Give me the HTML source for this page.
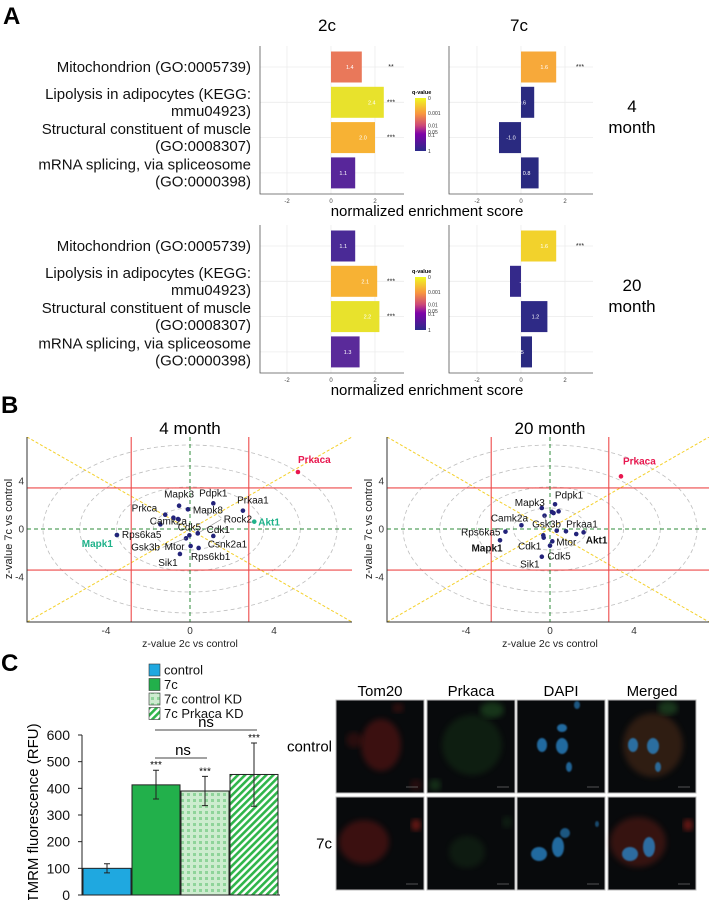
<!DOCTYPE html>
<html><head><meta charset="utf-8">
<style>
html,body{margin:0;padding:0;background:#fff;}
svg{display:block;font-family:"Liberation Sans",Arial,sans-serif;}
</style></head>
<body>
<svg id="fig" width="709" height="900" viewBox="0 0 709 900" xmlns="http://www.w3.org/2000/svg">
<defs>
<linearGradient id="qgrad" x1="0" y1="0" x2="0" y2="1">
<stop offset="0" stop-color="#f0f921"/><stop offset="0.3" stop-color="#f89540"/><stop offset="0.52" stop-color="#cc4778"/><stop offset="0.68" stop-color="#7e03a8"/><stop offset="1" stop-color="#2b2a8a"/>
</linearGradient>
<pattern id="dots" width="6" height="6" patternUnits="userSpaceOnUse"><rect width="6" height="6" fill="#cdeccf"/><rect x="1" y="1" width="3" height="3" fill="#8fd49a"/></pattern>
<pattern id="stripes" width="5" height="5" patternUnits="userSpaceOnUse" patternTransform="rotate(45)"><rect width="5" height="5" fill="#fff"/><rect width="2.6" height="5" fill="#2fb54a"/></pattern>
<filter id="blur2"><feGaussianBlur stdDeviation="3"/></filter>
<filter id="blur1"><feGaussianBlur stdDeviation="0.8"/></filter>
</defs>
<g id="panelA"></g>
<g id="panelB"></g>
<g id="panelC"></g>
</svg>
<script>
// ---------- Panel A data ----------
const termLines = [["Mitochondrion (GO:0005739)"],["Lipolysis in adipocytes (KEGG:","mmu04923)"],["Structural constituent of muscle","(GO:0008307)"],["mRNA splicing, via spliceosome","(GO:0000398)"]];
const nes4m2c = [1.4, 2.4, 2.0, 1.1];
const nes4m7c = [1.6, 0.6, -1.0, 0.8];
const nes20m2c = [1.1, 2.1, 2.2, 1.3];
const nes20m7c = [1.6, -0.5, 1.2, 0.5];
const nesLabel20m7c = ["1.6","-0","1.2","0.5"];
const col4m2c = ["#e9785a","#e8e22c","#f7b234","#58269a"];
const col4m7c = ["#f7a93a","#2a2a80","#2a2a80","#2a2a80"];
const col20m2c = ["#4a2a96","#f7b234","#e8e22c","#5a2a9a"];
const col20m7c = ["#f2d22c","#34298a","#2e2a86","#2a2a80"];
const stars4m2c = ["**","***","***",""];
const stars4m7c = ["***","","",""];
const stars20m2c = ["","***","***",""];
const stars20m7c = ["***","","",""];
const nesTicks = [-2, 0, 2];
const qTickLabels = ["0","0.001","0.01","0.05","0.1","1"];
const qTickFrac = [0, 0.28, 0.52, 0.64, 0.7, 1];

// ---------- Panel B data ----------
const genes4m = ["Prkaca","Mapk3","Pdpk1","Mapk8","Prkaa1","Akt1","Prkca","Camk2a","","","Cdk5","Gsk3b","Rock2","Cdk1","Mapk1","Rps6ka5","Mtor","Rps6kb1","Sik1","Csnk2a1"];
const z2c4m = [5.14,-0.52,1.11,-0.10,2.52,3.06,-1.18,-1.41,-0.79,-0.57,-0.03,-0.19,0.37,1.11,-3.48,-3.48,0.03,0.41,-0.48,0.37];
const z7c4m = [4.75,1.94,2.14,1.64,1.53,0.61,1.19,0.39,0.94,0.83,-0.53,-0.78,-0.36,-0.58,-0.50,-0.50,-1.42,-1.58,-2.08,-0.36];
const genes20m = ["Prkaca","Mapk3","Pdpk1","","","","Gsk3b","Camk2a","Prkaa1","","","Akt1","Rps6ka5","Mapk1","Cdk1","","Mtor","Cdk5","Sik1"];
const z2c20m = [3.38,-0.39,0.24,0.41,0.09,0.17,-0.26,-1.36,0.76,0.32,1.25,1.60,-2.12,-2.38,-0.30,-0.32,0.11,0.00,-0.39];
const z7c20m = [4.39,1.75,2.06,1.47,1.42,1.33,1.11,0.31,-0.19,-0.14,-0.42,-0.28,-0.22,-0.94,-0.72,-0.53,-1.03,-1.39,-2.31];
const zTicks = [-4, 0, 4];
const circleRadii = [1.75, 3.5, 5.25, 7];

// ---------- Panel C data ----------
const groups = ["control","7c","7c control KD","7c Prkaca KD"];
const tmrmMean = [100, 413, 390, 452];
const tmrmLow = [83, 360, 335, 333];
const tmrmHigh = [117, 468, 445, 570];
const tmrmStars = ["","***","***","***"];
const rfuTicks = [0,100,200,300,400,500,600];
const imgCols = ["Tom20","Prkaca","DAPI","Merged"];
const imgRows = ["control","7c"];

const NS="http://www.w3.org/2000/svg";
function el(tag, attrs, parent, text){
  const e=document.createElementNS(NS,tag);
  for(const k in attrs) e.setAttribute(k, attrs[k]);
  if(text!==undefined) e.textContent=text;
  parent.appendChild(e); return e;
}
const A=document.getElementById('panelA');
const B=document.getElementById('panelB');
const C=document.getElementById('panelC');

// ======== Panel A ========
let t=el('text',{x:3,y:24,'font-size':24,'font-weight':'bold'},A,'A');


t=el('text',{x:327,y:31,'font-size':17,'text-anchor':'middle'},A,'2c');


t=el('text',{x:519,y:31,'font-size':17,'text-anchor':'middle'},A,'7c');



function facet(g, left, zero, right, top, bottom, vals, cols, stars, labels, name){
  const sx = v => zero + v*22;
  const rowY = i => top + 21 + i*35.3;
  const fg=el('g',{},g);
  
  
  nesTicks.forEach(v=>{ const l=el('line',{x1:sx(v),x2:sx(v),y1:top,y2:bottom,stroke:'#ececec','stroke-width':0.8},fg);
    
    
    const tl=el('text',{x:sx(v),y:bottom+9,'font-size':6,'text-anchor':'middle',fill:'#444'},fg,String(v));
    
    
  });
  vals.forEach((v,i)=>{
    const y=rowY(i);
    const gl=el('line',{x1:left,x2:right,y1:y,y2:y,stroke:'#ececec','stroke-width':0.8},fg);
    
    
    const x0=Math.min(sx(0),sx(v)), w=Math.abs(sx(v)-sx(0));
    const r=el('rect',{x:x0,y:y-15.5,width:w,height:31,fill:cols[i]},fg);
    
    
    const lab = labels ? labels[i] : v.toFixed(1);
    const bt=el('text',{x:v>=0? sx(v)-12 : sx(v)+12,y:y+2,'font-size':5.5,'text-anchor':'middle',fill:'#fff'},fg,lab);
    
    
    if(stars[i]){ const st=el('text',{x:right-13,y:y+2,'font-size':7,'text-anchor':'middle',fill:'#222'},fg,stars[i]);
      
       }
  });
  const ax=el('path',{d:`M${left},${top} V${bottom} H${right}`,fill:'none',stroke:'#555','stroke-width':0.8},fg);
  
  
}
function termLabels(g, top){
  termLines.forEach((ls,i)=>{
    const y=top+21+i*35.3;
    const n=ls.length;
    ls.forEach((s,j)=>{
      const yy = y + 5 + (j-(n-1)/2)*17;
      const tl=el('text',{x:251,y:yy,'font-size':15,'text-anchor':'end',fill:'#111'},g,s);
      
      
    });
  });
}
function colorbar(g, top){
  const cb=el('rect',{x:415,y:top,width:11,height:53,fill:'url(#qgrad)'},g);
  
  
  const ct=el('text',{x:412,y:top-4,'font-size':5.5,'font-weight':'bold'},g,'q-value');
  
  
  qTickLabels.forEach((s,i)=>{ const q=el('text',{x:428,y:top+qTickFrac[i]*53+2,'font-size':5,fill:'#333'},g,s);
    
     });
}
function facetRow(top, v2, c2, s2, v7, c7, s7, l7, rowName, ageTop, ageBot){
  const bottom=top+148;
  termLabels(A, top);
  facet(A,260,331,404,top,bottom,v2,c2,s2,null,'facet-2c-'+rowName);
  facet(A,449,521,593,top,bottom,v7,c7,s7,l7,'facet-7c-'+rowName);
  colorbar(A, top+52);
  const xl=el('text',{x:427,y:bottom+22,'font-size':15,'text-anchor':'middle'},A,'normalized enrichment score');
  
  
  let a=el('text',{x:632,y:top+66,'font-size':17,'text-anchor':'middle'},A,ageTop);
  
  
  a=el('text',{x:632,y:top+87,'font-size':17,'text-anchor':'middle'},A,ageBot);
  
  
}
facetRow(46, nes4m2c, col4m2c, stars4m2c, nes4m7c, col4m7c, stars4m7c, null, '4m', '4', 'month');
facetRow(225, nes20m2c, col20m2c, stars20m2c, nes20m7c, col20m7c, stars20m7c, nesLabel20m7c, '20m', '20', 'month');

// ======== Panel B ========
t=el('text',{x:1,y:413,'font-size':24,'font-weight':'bold'},B,'B');


const labStyle4m = {Prkaca:[0,-9,'start',1],Mapk3:[0,-8,'middle',0],Pdpk1:[0,-7,'middle',0],Mapk8:[5,4,'start',0],Prkaa1:[10,-7,'middle',0],Akt1:[4,4,'start',1],Prkca:[-8,-3,'end',0],Camk2a:[8,0,'middle',0],Cdk5:[0,-5,'middle',0],Gsk3b:[-26,12,'end',0],Rock2:[26,-11,'start',0],Cdk1:[5,-3,'middle',0],Mapk1:[-4,12,'end',1],Rps6ka5:[5,3,'start',0],Mtor:[-6,4,'end',0],Rps6kb1:[12,12,'middle',0],Sik1:[-12,12,'middle',0],Csnk2a1:[10,14,'start',0]};
const labStyle20m = {Prkaca:[2,-12,'start',1],Mapk3:[-12,-2,'middle',0],Pdpk1:[14,-6,'middle',0],Gsk3b:[2,12,'middle',0],Camk2a:[-12,-4,'middle',0],Prkaa1:[16,-4,'middle',0],Akt1:[13,11,'middle',2],Rps6ka5:[-5,4,'end',0],Mapk1:[-13,11,'middle',2],Cdk1:[-14,12,'middle',0],Mtor:[14,4,'middle',0],Cdk5:[9,14,'middle',0],Sik1:[-12,11,'middle',0]};
function scatter(left, right, top, bottom, zx, title, genes, xs, ys, styles, name){
  const g=el('g',{},B);
  
  
  const zy=529;
  const sx=v=>zx+v*21, sy=v=>zy-v*12;
  const tt=el('text',{x:zx,y:top-3,'font-size':17,'text-anchor':'middle'},g,title);
  
  
  const clip='clip'+name;
  const cp=el('clipPath',{id:clip},g); el('rect',{x:left,y:top,width:right-left,height:bottom-top},cp);
  const inner=el('g',{'clip-path':`url(#${clip})`},g);
  circleRadii.forEach(r=>{ const c=el('ellipse',{cx:sx(0),cy:sy(0),rx:r*21,ry:r*12,fill:'none',stroke:'#bdbdbd','stroke-width':0.8,'stroke-dasharray':'4,3'},inner);
    
     });
  let l=el('line',{x1:left,y1:bottom,x2:right,y2:top,stroke:'#f4d02a','stroke-width':1,'stroke-dasharray':'3,2'},inner);
  
  
  l=el('line',{x1:left,y1:top,x2:right,y2:bottom,stroke:'#f4d02a','stroke-width':1,'stroke-dasharray':'3,2'},inner);
  
  
  [-2.8,2.8].forEach(v=>{ const r=el('line',{x1:sx(v),x2:sx(v),y1:top,y2:bottom,stroke:'#ee4a4a','stroke-width':1.1},inner);
    
     });
  [-3.42,3.42].forEach(v=>{ const r=el('line',{x1:left,x2:right,y1:sy(v),y2:sy(v),stroke:'#ee4a4a','stroke-width':1.1},inner);
    
     });
  l=el('line',{x1:sx(0),x2:sx(0),y1:top,y2:bottom,stroke:'#2e8b3a','stroke-width':1,'stroke-dasharray':'4,3'},inner);
  
  
  l=el('line',{x1:left,x2:right,y1:sy(0),y2:sy(0),stroke:'#2e8b3a','stroke-width':1,'stroke-dasharray':'4,3'},inner);
  
  
  genes.forEach((gn,i)=>{
    const px=sx(xs[i]), py=sy(ys[i]);
    const st=styles[gn]; const kind = st? st[3]:0;
    const col = kind===1 ? (gn==='Prkaca' ? '#e8174f' : '#1fb28a') : '#23237a';
    const p=el('circle',{cx:px,cy:py,r:2.3,fill:col},inner);
    
    
    if(gn && st){
      const lc = kind===1 ? col : '#111';
      if(gn==='Rock2'||gn==='Gsk3b'){ const ll=el('line',{x1:px,y1:py,x2:px+st[0]*0.9,y2:py+st[1]-3,stroke:'#888','stroke-width':0.6},inner);
        
         }
      const tl=el('text',{x:px+st[0],y:py+st[1],'font-size':10,'text-anchor':st[2],fill:lc,'font-weight':kind>0?'bold':'normal'},inner,gn);
      
      
    }
  });
  const ax=el('path',{d:`M${left},${top} V${bottom} H${right}`,fill:'none',stroke:'#333','stroke-width':1},g);
  
  
  zTicks.forEach(v=>{
    let tk=el('text',{x:sx(v),y:bottom+12,'font-size':10,'text-anchor':'middle',fill:'#333'},g,String(v));
    
    
    tk=el('text',{x:left-3,y:sy(v)+3.5,'font-size':10,'text-anchor':'end',fill:'#333'},g,String(v));
    
    
  });
  const xl=el('text',{x:zx,y:bottom+25,'font-size':10.5,'text-anchor':'middle',fill:'#222'},g,'z-value 2c vs control');
  
  
  const yl=el('text',{x:0,y:0,'font-size':11,'text-anchor':'middle',fill:'#222',transform:`translate(${left-15},${zy}) rotate(-90)`},g,'z-value 7c vs control');
  
  
}
scatter(27, 352, 437, 622, 190, '4 month', genes4m, z2c4m, z7c4m, labStyle4m, 'scatter-4-month');
scatter(387, 709, 437, 622, 550, '20 month', genes20m, z2c20m, z7c20m, labStyle20m, 'scatter-20-month');

// ======== Panel C ========
t=el('text',{x:1,y:671,'font-size':24,'font-weight':'bold'},C,'C');


const fills=['#1fa8e0','#22b04b','url(#dots)','url(#stripes)'];
groups.forEach((gname,i)=>{
  const y=664+i*14.5;
  const lg=el('g',{},C);
  
  
  el('rect',{x:149,y:y,width:11,height:12,fill:fills[i],stroke:'#333','stroke-width':0.6},lg);
  el('text',{x:164,y:y+10.5,'font-size':13,fill:'#111'},lg,gname);
});
const by=v=>895-v*160/600;
const barX=[83,132,181,230], barW=48;
const axC=el('path',{d:`M82,${by(600)} V895 H280`,fill:'none',stroke:'#222','stroke-width':1},C);


rfuTicks.forEach(v=>{
  const tk=el('text',{x:70,y:by(v)+5,'font-size':14,'text-anchor':'end',fill:'#111'},C,String(v));
  
  
  el('line',{x1:78,x2:82,y1:by(v),y2:by(v),stroke:'#222'},C);
});
tmrmMean.forEach((v,i)=>{
  const r=el('rect',{x:barX[i],y:by(v),width:barW,height:895-by(v),fill:fills[i],stroke:'#222','stroke-width':1},C);
  
  
  const cx=barX[i]+barW/2;
  const eb=el('path',{d:`M${cx},${by(tmrmLow[i])} V${by(tmrmHigh[i])} M${cx-3},${by(tmrmLow[i])} H${cx+3} M${cx-3},${by(tmrmHigh[i])} H${cx+3}`,stroke:'#222','stroke-width':1,fill:'none'},C);
  
  
  if(tmrmStars[i]){ const s=el('text',{x:cx,y:by(tmrmHigh[i])-2,'font-size':10,'text-anchor':'middle'},C,tmrmStars[i]);
    
     }
});
let b=el('line',{x1:155,x2:207,y1:758,y2:758,stroke:'#444','stroke-width':1},C);


b=el('text',{x:183,y:755,'font-size':15,'text-anchor':'middle'},C,'ns');


b=el('line',{x1:155,x2:257,y1:730,y2:730,stroke:'#444','stroke-width':1},C);


b=el('text',{x:206,y:727,'font-size':15,'text-anchor':'middle'},C,'ns');


b=el('text',{x:0,y:0,'font-size':15,'text-anchor':'middle',transform:'translate(38,813) rotate(-90)'},C,'TMRM fluorescence (RFU)');



// micrographs
const colX=[336,427,517,608], colW=88, rowY=[700,797], rowH=93;
const blobs = {
 'Tom20-0':[[45,45,20,26,'#c0201c',0.28],[18,40,8,8,'#b01c18',0.2],[62,8,6,5,'#a01a18',0.25],[80,85,6,6,'#a01a18',0.2]],
 'Prkaca-0':[[45,45,30,30,'#2a7a2a',0.18],[65,10,12,8,'#3a9a3a',0.3],[8,85,6,6,'#3a9a3a',0.25]],
 'DAPI-0':[[45,28,5,4,'#2a8ad0',0.75],[25,45,5,7,'#2a8ad0',0.75],[45,46,6,8,'#2a8ad0',0.75],[52,67,3,5,'#2a8ad0',0.7],[60,5,3,4,'#2a8ad0',0.6]],
 'Merged-0':[[45,45,30,32,'#8a4a20',0.3],[25,45,5,7,'#2a8ad0',0.75],[45,46,6,8,'#2a8ad0',0.75],[50,67,3,5,'#2a8ad0',0.7],[60,8,10,7,'#3a8a3a',0.35]],
 'Tom20-1':[[28,45,25,22,'#c0201c',0.28],[80,28,5,6,'#c8281c',0.5]],
 'Prkaca-1':[[40,55,18,16,'#2a6a2a',0.18],[80,25,5,6,'#2a6a2a',0.2]],
 'DAPI-1':[[22,57,8,7,'#2a8ad0',0.75],[41,50,6,10,'#2a8ad0',0.75],[48,36,5,5,'#2a8ad0',0.6],[80,27,2,3,'#2a8ad0',0.5]],
 'Merged-1':[[30,45,28,25,'#a22a1a',0.3],[22,57,8,7,'#2a8ad0',0.75],[41,50,6,10,'#2a8ad0',0.75],[80,28,5,6,'#c8281c',0.5]]
};
imgCols.forEach((cn,ci)=>{
  const h=el('text',{x:colX[ci]+colW/2,y:696,'font-size':15,'text-anchor':'middle'},C,cn);
  
  
  imgRows.forEach((rn,ri)=>{
    const g=el('g',{},C);
    
    
    el('rect',{x:colX[ci],y:rowY[ri],width:colW,height:rowH,fill:'#080a0c',stroke:'#bbb','stroke-width':1},g);
    (blobs[cn+'-'+ri]||[]).forEach(bb=>{
      const blue = bb[4]==='#2a8ad0';
      el('ellipse',{cx:colX[ci]+bb[0],cy:rowY[ri]+bb[1],rx:bb[2],ry:bb[3],fill:bb[4],opacity:bb[5],filter:blue?'url(#blur1)':'url(#blur2)'},g);
    });
    el('line',{x1:colX[ci]+colW-18,x2:colX[ci]+colW-6,y1:rowY[ri]+rowH-6,y2:rowY[ri]+rowH-6,stroke:'#666','stroke-width':0.8},g);
  });
});
imgRows.forEach((rn,ri)=>{
  const r=el('text',{x:332,y:rowY[ri]+rowH/2+5,'font-size':15,'text-anchor':'end'},C,rn);
  
  
});
</script>
</body></html>
